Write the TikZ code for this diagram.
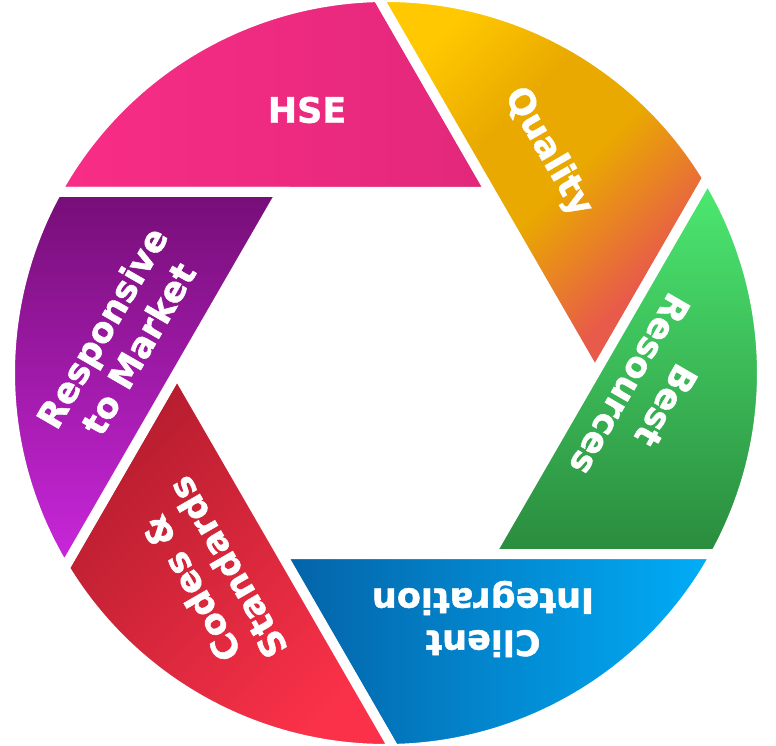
\documentclass[tikz,border=0pt]{standalone}
\usepackage{fontspec}
\setmainfont{DejaVu Sans}
\newfontfamily\lblfont{DejaVu Sans}[BoldFeatures={FakeBold=1.3}]
\usetikzlibrary{calc}
\definecolor{hsel}{HTML}{F92D86}
\definecolor{hser}{HTML}{E2287A}
\definecolor{qualtop}{HTML}{FFC800}
\definecolor{qualmid}{HTML}{E9A900}
\definecolor{qualbot}{HTML}{E85A4A}
\definecolor{bestt}{HTML}{4DEA72}
\definecolor{bestb}{HTML}{2A8B3E}
\definecolor{clientl}{HTML}{0462A7}
\definecolor{clientr}{HTML}{01AEF8}
\definecolor{codest}{HTML}{B51D2E}
\definecolor{codesb}{HTML}{FA3149}
\definecolor{respt}{HTML}{760E77}
\definecolor{respb}{HTML}{CA27DC}
\pgfdeclareverticalshading{qualshade}{100bp}{color(0bp)=(qualbot); color(30bp)=(qualbot);
	color(48bp)=(qualmid); color(60bp)=(qualmid); color(75bp)=(qualtop); color(100bp)=(qualtop)}

\begin{document}
\begin{tikzpicture}[x=1pt,y=1pt,
	blade/.style={draw=white,line width=10pt,line join=miter},
	hse/.style={left color=hsel,right color=hser},
	quality/.style={shading=qualshade,shading angle=45},
	bestres/.style={top color=bestt,bottom color=bestb},
	client/.style={left color=clientl,right color=clientr},
	codes/.style={top color=codest,bottom color=codesb,shading angle=45},
	responsive/.style={top color=respt,bottom color=respb},
	lbl/.style={text=white,font=\lblfont\fontsize{35}{42}\selectfont\bfseries,align=center}]
	\useasboundingbox (0,0) rectangle (776,745);
	\coordinate (C) at (386,372);
	% blades: apex on the hexagon, outer side on the circle
	\foreach \a/\s in {60/hse,0/quality,-60/bestres,-120/client,-180/codes,-240/responsive}
		\shadedraw[blade,\s] ($(C)+(\a:209)$) -- ($(C)+(\a+31.22:376)$)
			arc[start angle=\a+31.22,end angle=\a+91.22,radius=376] -- cycle;

	\node[lbl] (HSE) at (307,635) {HSE};
	\node[lbl,rotate=-60] (Quality) at (548,593) {Quality};
	\node[lbl,rotate=-120] (Best) at (648,350) {Best\\Resources};
	\node[lbl,rotate=180] (Client) at (483,126) {Client\\Integration};
	\node[lbl,rotate=120] (Codes) at (209,167) {Codes \&\\Standards};
	\node[lbl,rotate=60] (Market) at (120,407) {Responsive\\to Market};
\end{tikzpicture}
\end{document}
